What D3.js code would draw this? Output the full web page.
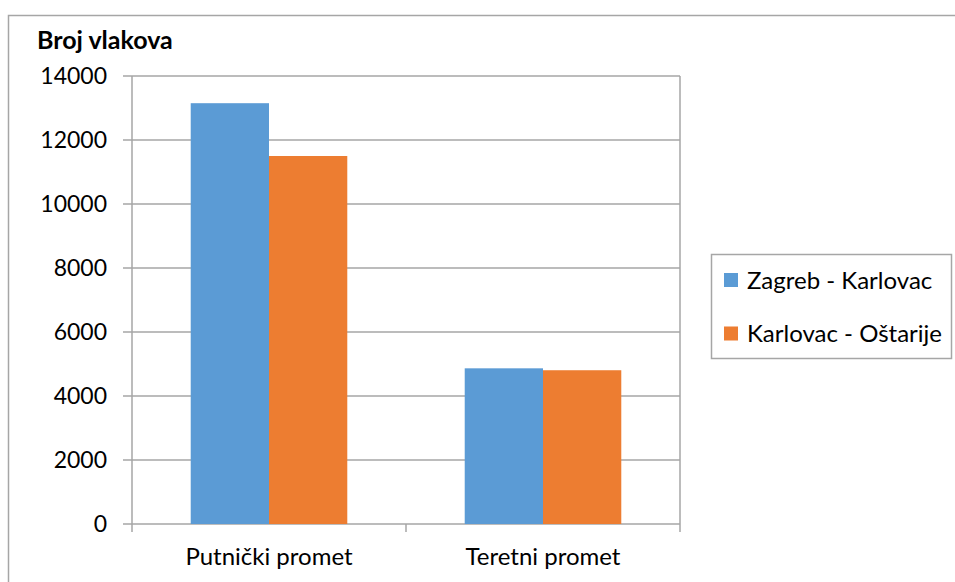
<!DOCTYPE html>
<html>
<head>
<meta charset="UTF-8">
<title>Broj vlakova</title>
<script src="https://d3js.org/d3.v7.min.js"></script>
<style>
  body { margin: 0; background: #fff; }
  svg { display: block; font-family: Lato, "Open Sans", sans-serif; }
</style>
</head>
<body>
<div id="chart"></div>
<script>
// podaci
const categories = ["Putnički promet", "Teretni promet"];
const seriesNames = ["Zagreb - Karlovac", "Karlovac - Oštarije"];
const zagrebKarlovac = [13150, 4865];
const karlovacOstarije = [11500, 4805];
const yTicks = [0, 2000, 4000, 6000, 8000, 10000, 12000, 14000];
const colors = ["#5B9BD5", "#ED7D31"];

const width = 955, height = 582;
const plot = { left: 132, right: 680, top: 76, bottom: 524 };
const grid = "#A6A6A6";
const fs = 24;

const svg = d3.select("#chart").append("svg")
    .attr("width", width)
    .attr("height", height);

// okvir grafikona
svg.append("rect")
    .attr("x", 8.5).attr("y", 15.5)
    .attr("width", 960).attr("height", 600)
    .attr("fill", "none")
    .attr("stroke", grid)
    .attr("stroke-width", 1.5);

const x = d3.scaleBand()
    .domain(categories)
    .range([plot.left, plot.right])
    .paddingInner(0.4286)
    .paddingOuter(0.2143);

const xs = d3.scaleBand()
    .domain(seriesNames)
    .range([0, x.bandwidth()]);

const y = d3.scaleLinear()
    .domain([0, 14000])
    .range([plot.bottom, plot.top]);

// mreža
svg.append("g")
    .selectAll("line")
    .data(yTicks)
    .join("line")
    .attr("x1", plot.left - 9)
    .attr("x2", plot.right)
    .attr("y1", d => y(d))
    .attr("y2", d => y(d))
    .attr("stroke", grid)
    .attr("stroke-width", 1.5);

// y oznake
svg.append("g")
    .selectAll("text")
    .data(yTicks)
    .join("text")
    .attr("x", 107)
    .attr("y", d => y(d))
    .attr("dy", "0.36em")
    .attr("text-anchor", "end")
    .attr("font-size", 23)
    .attr("fill", "#000")
    .text(d => d);

// stupci
const series = [zagrebKarlovac, karlovacOstarije];
series.forEach((vals, si) => {
    svg.append("g")
        .selectAll("rect")
        .data(vals)
        .join("rect")
        .attr("x", (d, i) => x(categories[i]) + xs(seriesNames[si]))
        .attr("y", d => y(d))
        .attr("width", xs.bandwidth())
        .attr("height", d => y(0) - y(d))
        .attr("fill", colors[si]);
});

// osi
const step = x.step();
svg.append("line")
    .attr("x1", plot.left).attr("x2", plot.left)
    .attr("y1", plot.top).attr("y2", plot.bottom + 8)
    .attr("stroke", grid).attr("stroke-width", 1.5);
svg.append("line")
    .attr("x1", plot.right).attr("x2", plot.right)
    .attr("y1", plot.top).attr("y2", plot.bottom + 8)
    .attr("stroke", grid).attr("stroke-width", 1.5);
svg.append("line")
    .attr("x1", plot.left + step).attr("x2", plot.left + step)
    .attr("y1", plot.bottom).attr("y2", plot.bottom + 8)
    .attr("stroke", grid).attr("stroke-width", 1.5);

// kategorije
svg.append("g")
    .selectAll("text")
    .data(categories)
    .join("text")
    .attr("x", d => x(d) + x.bandwidth() / 2)
    .attr("y", 565)
    .attr("text-anchor", "middle")
    .attr("font-size", fs)
    .attr("fill", "#000")
    .text(d => d);

// naslov osi
svg.append("text")
    .attr("x", 37)
    .attr("y", 49)
    .attr("font-size", 25)
    .attr("font-weight", "bold")
    .attr("fill", "#000")
    .text("Broj vlakova");

// legenda
const lg = svg.append("g");
lg.append("rect")
    .attr("x", 711.5).attr("y", 254.5)
    .attr("width", 240).attr("height", 104)
    .attr("fill", "#fff")
    .attr("stroke", grid)
    .attr("stroke-width", 1.5);
const items = lg.selectAll("g")
    .data(seriesNames)
    .join("g")
    .attr("transform", (d, i) => `translate(724, ${273 + i * 53.5})`);
items.append("rect")
    .attr("width", 14).attr("height", 14)
    .attr("fill", (d, i) => colors[i]);
items.append("text")
    .attr("x", 23)
    .attr("y", 7)
    .attr("dy", "0.36em")
    .attr("font-size", fs)
    .attr("fill", "#000")
    .text(d => d);
</script>
</body>
</html>
